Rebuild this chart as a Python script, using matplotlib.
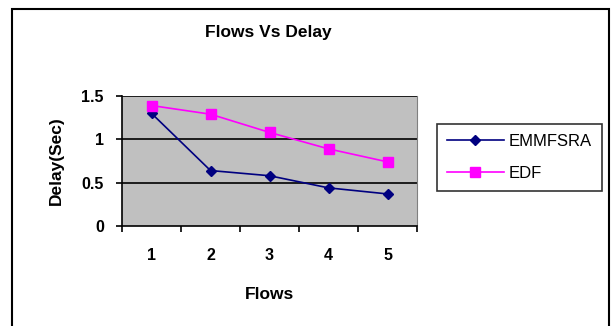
import matplotlib
matplotlib.use('Agg')
import matplotlib.pyplot as plt
from matplotlib.patches import Rectangle

flows = [1, 2, 3, 4, 5]
emmfsra = [1.30, 0.64, 0.58, 0.44, 0.37]
edf = [1.39, 1.29, 1.08, 0.89, 0.74]
yticks = [0, 0.5, 1, 1.5]
ytick_labels = ['0', '0.5', '1', '1.5']

plt.rcParams['font.family'] = ['Liberation Sans', 'DejaVu Sans']

fig = plt.figure(figsize=(6.14, 3.26), dpi=100)
W, H = 614, 326

# outer chart frame
fig.add_artist(Rectangle((12 / W, -0.05), (609 - 12) / W, 1 - 9 / H + 0.05,
                         transform=fig.transFigure, fill=False,
                         edgecolor='black', linewidth=1.5))

ax = fig.add_axes([122 / W, 1 - 226 / H, 295 / W, 130 / H])
ax.set_facecolor('#c0c0c0')

for y in yticks[1:]:
    ax.axhline(y, color='black', linewidth=1.2, zorder=1)

ax.plot(flows, emmfsra, color='#000080', marker='D', markersize=5.5,
        linewidth=1.2, label='EMMFSRA', zorder=3)
ax.plot(flows, edf, color='#ff00ff', marker='s', markersize=6.5,
        linewidth=1.2, label='EDF', zorder=3)

ax.set_xlim(0.5, 5.5)
ax.set_ylim(0, 1.5)
ax.set_xticks(flows)
ax.set_xticks([0.5, 1.5, 2.5, 3.5, 4.5, 5.5], minor=True)
ax.tick_params(axis='x', which='major', length=0, pad=16)
ax.tick_params(axis='x', which='minor', length=4, direction='out', width=1.2)
ax.set_xticklabels([str(f) for f in flows], fontsize=11.5, fontweight='bold')
ax.set_yticks(yticks)
ax.set_yticklabels(ytick_labels, fontsize=11.5, fontweight='bold')
ax.tick_params(axis='y', length=4, direction='out', width=1.2, pad=9)

ax.spines['left'].set_linewidth(1.2)
ax.spines['bottom'].set_linewidth(1.2)
ax.spines['top'].set_visible(False)
ax.spines['right'].set_color('#808080')

ax.set_xlabel('Flows', fontsize=12.5, fontweight='bold', labelpad=17)
ax.set_ylabel('Delay(Sec)', fontsize=12.5, fontweight='bold', labelpad=13)
fig.text(268 / W, 1 - 33 / H, 'Flows Vs Delay', fontsize=12.5, fontweight='bold',
         ha='center', va='center')

leg = fig.legend(loc='upper left', bbox_to_anchor=(437 / W, 1 - 124 / H),
                 fontsize=12, frameon=True, fancybox=False, edgecolor='black',
                 borderpad=0.6, labelspacing=1.0, handlelength=3.4,
                 handletextpad=0.3, borderaxespad=0)
leg.get_frame().set_linewidth(1.2)

plt.savefig('out.png', dpi=100)
